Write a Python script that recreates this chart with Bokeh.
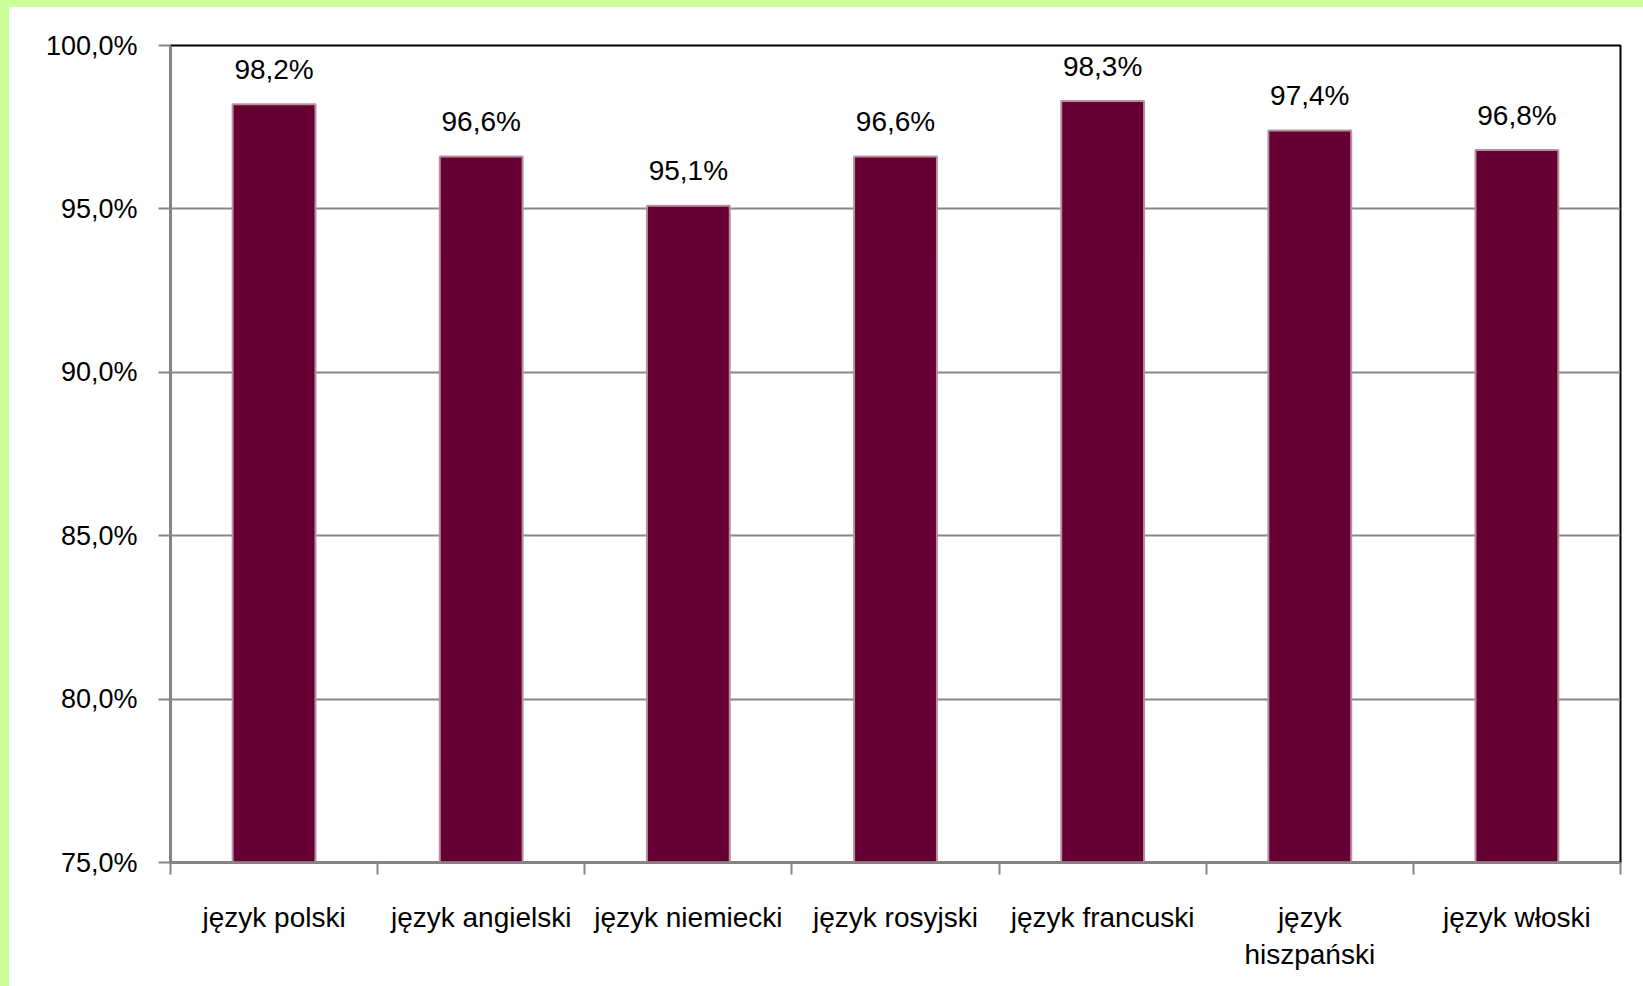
from bokeh.plotting import figure
from bokeh.layouts import column, row
from bokeh.models import (Range1d, FixedTicker, CustomJSTickFormatter, ColumnDataSource, Spacer)
from bokeh.core.properties import value
from bokeh.embed import file_html
from bokeh.resources import INLINE

categories = ["język polski", "język angielski", "język niemiecki", "język rosyjski",
              "język francuski", "język\nhiszpański", "język włoski"]
shares = [98.2, 96.6, 95.1, 96.6, 98.3, 97.4, 96.8]
y_ticks = [75, 80, 85, 90, 95, 100]

FONT = "Liberation Sans"
GRAY = "#868686"
FRAME_GREEN = "#CCFF99"

n = len(categories)
centers = [i + 0.5 for i in range(n)]
bounds = list(range(n + 1))
labels = [f"{v:.1f}".replace(".", ",") + "%" for v in shares]
src = ColumnDataSource(dict(x=centers, top=shares, label=labels))

p = figure(x_range=Range1d(0, n), y_range=Range1d(75, 100),
           frame_width=1450, frame_height=817,
           min_border_left=161, min_border_right=23, min_border_top=38, min_border_bottom=124,
           output_backend="svg", toolbar_location=None, tools="")
p.background_fill_color = "white"
p.border_fill_color = "white"
p.outline_line_color = "black"
p.outline_line_width = 2

p.vbar(x="x", top="top", bottom=75, width=0.40, source=src,
       fill_color="#660033", line_color="#B8919F", line_width=2)

p.text(x="x", y="top", text="label", source=src, y_offset=-35,
       text_align="center", text_baseline="alphabetic",
       text_font=value(FONT), text_font_size="28px", text_color="#000000")

# grid
p.xgrid.visible = False
p.ygrid.ticker = FixedTicker(ticks=y_ticks[1:-1])
p.ygrid.grid_line_color = GRAY
p.ygrid.grid_line_width = 2

# y axis
ya = p.yaxis[0]
ya.ticker = FixedTicker(ticks=y_ticks)
ya.formatter = CustomJSTickFormatter(code="return tick.toFixed(1).replace('.', ',') + '%';")
ya.axis_line_color = GRAY
ya.axis_line_width = 2
ya.major_tick_line_color = GRAY
ya.major_tick_line_width = 2
ya.major_tick_in = 0
ya.major_tick_out = 12
ya.minor_tick_line_color = None
ya.major_label_standoff = 21
ya.major_label_text_font = FONT
ya.major_label_text_font_size = "27px"
ya.major_label_text_color = "#000000"

# x axis: labels at category centres, ticks at category boundaries
xa = p.xaxis[0]
xa.ticker = FixedTicker(ticks=centers, minor_ticks=bounds)
xa.major_label_overrides = {c: lab for c, lab in zip(centers, categories)}
xa.axis_line_color = GRAY
xa.axis_line_width = 2
xa.major_tick_line_color = None
xa.major_tick_in = 0
xa.major_tick_out = 0
xa.minor_tick_line_color = GRAY
xa.minor_tick_line_width = 2
xa.minor_tick_in = 0
xa.minor_tick_out = 12
xa.major_label_standoff = 27
xa.major_label_text_font = FONT
xa.major_label_text_font_size = "28px"
xa.major_label_text_color = "#000000"
xa.major_label_text_line_height = 1.2

top_strip = Spacer(width=1643, height=7, styles={"background-color": FRAME_GREEN})
left_strip = Spacer(width=9, height=979, styles={"background-color": FRAME_GREEN})
layout = column(top_strip, row(left_strip, p, spacing=0), spacing=0)

open("out.html", "w").write(file_html(layout, INLINE))
